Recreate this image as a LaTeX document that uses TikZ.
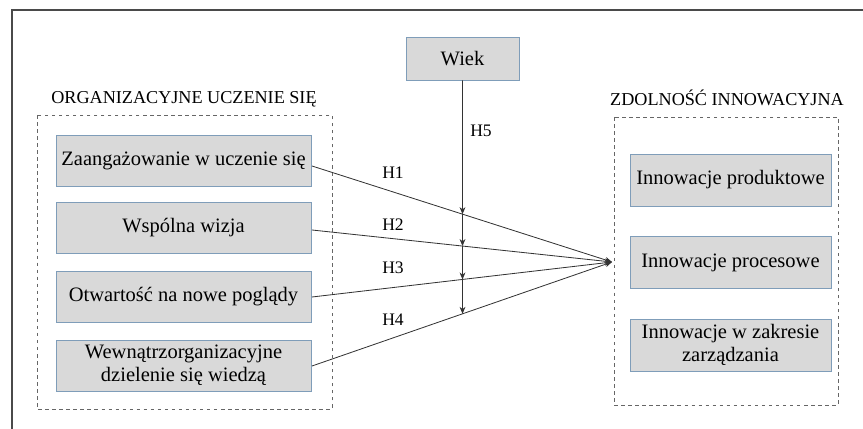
\documentclass[tikz,border=0pt]{standalone}
\usepackage{fontspec}
\setmainfont{Liberation Serif}
\newfontfamily\diagfont{Liberation Serif}
\usepackage{tikz}
\usetikzlibrary{arrows.meta}
\usetikzlibrary{positioning}
\usepackage{xcolor}
\definecolor{boxfill}{HTML}{D9D9D9}
\definecolor{boxline}{HTML}{7F9DB9}
\definecolor{frameline}{HTML}{4A4A4A}

\tikzset{
  itembox/.style={draw=boxline, fill=boxfill, line width=0.8pt, align=center,
    font=\diagfont\fontsize{17.5}{19.5}\selectfont, inner sep=2pt},
  groupbox/.style={draw=gray!80!black, dashed, line width=0.8pt},
  grouptitle/.style={font=\diagfont\fontsize{15.5}{17}\selectfont},
  hlabel/.style={font=\diagfont\fontsize{15}{17}\selectfont, inner sep=1pt},
  link/.style={draw=black!80, line width=0.7pt, -{Stealth[length=6pt,width=5pt]}},
}

\begin{document}
\begin{tikzpicture}[x=0.03cm, y=-0.03cm]
       \useasboundingbox (0,0) rectangle (863,429);
       % outer frame (only top and left edges visible)
       \draw[frameline, line width=1.1pt] (12,429) -- (12,10) -- (863,10);

       % groups
       \draw[groupbox] (37,115) rectangle (332,409);
       \draw[groupbox] (614,117) rectangle (838,405);
       \node[grouptitle] (tl) at (184,99) {ORGANIZACYJNE UCZENIE SIĘ};
       \node[grouptitle] (tr) at (727,98) {ZDOLNOŚĆ INNOWACYJNA};

       % left boxes
       \node[itembox, minimum width=255*0.03cm, minimum height=51*0.03cm] (z1) at (183.5,160.5) {Zaangażowanie w uczenie się};
       \node[itembox, minimum width=255*0.03cm, minimum height=51*0.03cm] (z2) at (183.5,227.5) {Wspólna wizja};
       \node[itembox, minimum width=255*0.03cm, minimum height=51*0.03cm] (z3) at (183.5,297) {Otwartość na nowe poglądy};
       \node[itembox, minimum width=255*0.03cm, minimum height=51*0.03cm] (z4) at (183.5,365.5) {Wewnątrzorganizacyjne\\dzielenie się wiedzą};

       % right boxes
       \node[itembox, minimum width=201*0.03cm, minimum height=52*0.03cm] (i1) at (730.5,180) {Innowacje produktowe};
       \node[itembox, minimum width=201*0.03cm, minimum height=52*0.03cm] (i2) at (730.5,262.5) {Innowacje procesowe};
       \node[itembox, minimum width=201*0.03cm, minimum height=52*0.03cm] (i3) at (730.5,345) {Innowacje w zakresie\\zarządzania};

       % moderator
       \node[itembox, minimum width=113*0.03cm, minimum height=43*0.03cm] (wiek) at (462.5,58.5) {Wiek};

       \coordinate (c) at (612,262);
       \coordinate (s1) at (312,166);
       \coordinate (s2) at (312,230);
       \coordinate (s3) at (312,297);
       \coordinate (s4) at (312,366);
       \coordinate (vb) at (462.5,400);

       \draw[link] (s1) -- (c);
       \draw[link] (s2) -- (c);
       \draw[link] (s3) -- (c);
       \draw[link] (s4) -- (c);

       \coordinate (x1) at (intersection of s1--c and wiek.south--vb);
       \coordinate (x2) at (intersection of s2--c and wiek.south--vb);
       \coordinate (x3) at (intersection of s3--c and wiek.south--vb);
       \coordinate (x4) at (intersection of s4--c and wiek.south--vb);

       \draw[link] (wiek.south) -- (x1);
       \draw[link] (x1) -- (x2);
       \draw[link] (x2) -- (x3);
       \draw[link] (x3) -- (x4);

       \node[hlabel] (h1) at (393,173) {H1};
       \node[hlabel] (h2) at (393,225) {H2};
       \node[hlabel] (h3) at (393,268) {H3};
       \node[hlabel] (h4) at (393,320) {H4};
       \node[hlabel] (h5) at (481,131) {H5};
\end{tikzpicture}
\end{document}
